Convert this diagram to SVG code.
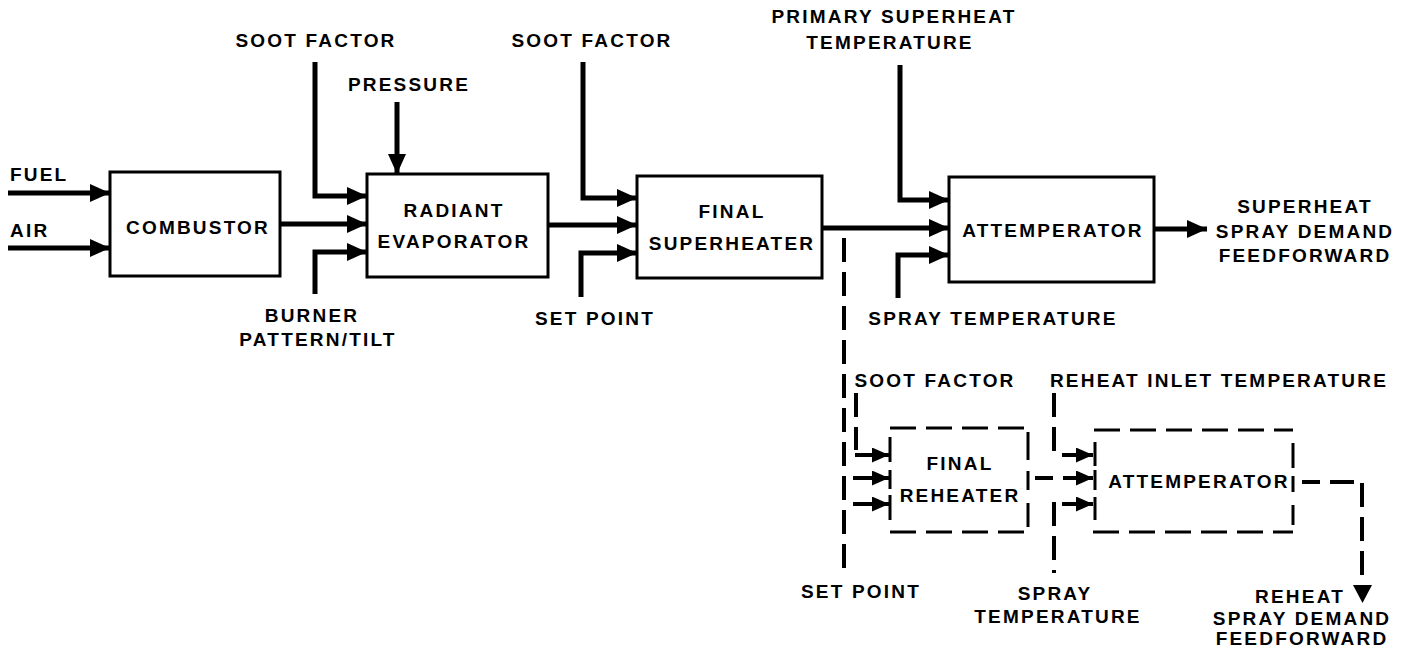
<svg xmlns="http://www.w3.org/2000/svg" width="1414" height="659" viewBox="0 0 1414 659">
<style>
text{font-family:"Liberation Sans",Arial,sans-serif;font-weight:bold;font-size:19px;letter-spacing:2.2px;fill:#000}
.m{text-anchor:middle}
.box{fill:#fff;stroke:#000;stroke-width:3}
.dbox{fill:none;stroke:#000;stroke-width:3;stroke-dasharray:26 10}
.w{fill:none;stroke:#000;stroke-width:5;stroke-linejoin:miter}
.d{fill:none;stroke:#000;stroke-width:4;stroke-dasharray:24 10}
.t{fill:none;stroke:#000;stroke-width:3}
.s{fill:none;stroke:#000;stroke-width:4}
</style>
<defs>
<marker id="ah" markerUnits="userSpaceOnUse" markerWidth="20" markerHeight="18" refX="20" refY="9" orient="auto">
<path d="M0,0 L20,9 L0,18 z" fill="#000"/>
</marker>
<marker id="as" markerUnits="userSpaceOnUse" markerWidth="17" markerHeight="15" refX="17" refY="7.5" orient="auto">
<path d="M0,0 L17,7.5 L0,15 z" fill="#000"/>
</marker>
</defs>
<rect width="1414" height="659" fill="#fff"/>

<g id="connectors">
<line class="w" x1="8" y1="193" x2="110" y2="193" marker-end="url(#ah)"/>
<line class="w" x1="8" y1="248" x2="110" y2="248" marker-end="url(#ah)"/>
<polyline class="w" points="315,62 315,196 367,196" marker-end="url(#ah)"/>
<line class="w" x1="280" y1="224" x2="367" y2="224" marker-end="url(#ah)"/>
<polyline class="w" points="315,294 315,252 367,252" marker-end="url(#ah)"/>
<line class="w" x1="397" y1="102" x2="397" y2="174" marker-end="url(#ah)"/>
<polyline class="w" points="583,62 583,198 637,198" marker-end="url(#ah)"/>
<line class="w" x1="548" y1="225" x2="637" y2="225" marker-end="url(#ah)"/>
<polyline class="w" points="581,297 581,253 637,253" marker-end="url(#ah)"/>
<polyline class="w" points="900,65 900,200 949,200" marker-end="url(#ah)"/>
<line class="w" x1="822" y1="228" x2="949" y2="228" marker-end="url(#ah)"/>
<polyline class="w" points="898,298 898,255 949,255" marker-end="url(#ah)"/>
<line class="w" x1="1154" y1="229" x2="1207" y2="229" marker-end="url(#ah)"/>

<line class="d" x1="844" y1="238" x2="844" y2="572"/>
<line class="d" x1="856" y1="393" x2="856" y2="450"/>
<line class="s" x1="855" y1="455" x2="889" y2="455" marker-end="url(#as)"/>
<line class="s" x1="853" y1="478" x2="889" y2="478" marker-end="url(#as)"/>
<line class="s" x1="853" y1="504" x2="889" y2="504" marker-end="url(#as)"/>

<line class="s" x1="1035" y1="478" x2="1053" y2="478"/>
<line class="d" x1="1054" y1="393" x2="1054" y2="452"/>
<line class="s" x1="1062" y1="455" x2="1093" y2="455" marker-end="url(#as)"/>
<line class="s" x1="1063" y1="478" x2="1093" y2="478" marker-end="url(#as)"/>
<line class="s" x1="1062" y1="504" x2="1093" y2="504" marker-end="url(#as)"/>
<line class="d" x1="1054" y1="502" x2="1054" y2="573"/>

<line class="s" x1="1302" y1="482" x2="1320" y2="482"/>
<line class="s" x1="1330" y1="482" x2="1354" y2="482"/>
<line class="d" x1="1362" y1="483" x2="1362" y2="582"/>
<path d="M1353,585 L1372,585 L1362.5,603 z" fill="#000"/>
</g>

<g id="combustor">
<rect class="box" x="110" y="172" width="170" height="104"/>
<text class="m" x="198" y="234">COMBUSTOR</text>
</g>
<g id="radiant-evaporator">
<rect class="box" x="367" y="174" width="181" height="103"/>
<text class="m" x="454" y="217">RADIANT</text>
<text class="m" x="454" y="248">EVAPORATOR</text>
</g>
<g id="final-superheater">
<rect class="box" x="637" y="176" width="185" height="102"/>
<text class="m" x="732" y="218">FINAL</text>
<text class="m" x="732" y="250">SUPERHEATER</text>
</g>
<g id="attemperator">
<rect class="box" x="949" y="177" width="205" height="105"/>
<text class="m" x="1053" y="237">ATTEMPERATOR</text>
</g>
<g id="final-reheater">
<line class="dbox" x1="890" y1="428" x2="1028" y2="428"/>
<line class="dbox" x1="890" y1="532" x2="1028" y2="532"/>
<line class="t" x1="890" y1="437" x2="890" y2="462"/>
<line class="t" x1="890" y1="470" x2="890" y2="489"/>
<line class="t" x1="890" y1="495" x2="890" y2="520"/>
<line class="t" x1="1028" y1="432" x2="1028" y2="460"/>
<line class="t" x1="1028" y1="471" x2="1028" y2="490"/>
<line class="t" x1="1028" y1="503" x2="1028" y2="527"/>
<text class="m" x="960" y="470">FINAL</text>
<text class="m" x="960" y="502">REHEATER</text>
</g>
<g id="reheat-attemperator">
<line class="dbox" x1="1094" y1="430" x2="1293" y2="430"/>
<line class="dbox" x1="1093" y1="532" x2="1293" y2="532"/>
<line class="t" x1="1095" y1="442" x2="1095" y2="466"/>
<line class="t" x1="1095" y1="470" x2="1095" y2="490"/>
<line class="t" x1="1095" y1="497" x2="1095" y2="520"/>
<line class="t" x1="1293" y1="443" x2="1293" y2="468"/>
<line class="t" x1="1293" y1="476" x2="1293" y2="492"/>
<line class="t" x1="1293" y1="505" x2="1293" y2="525"/>
<text class="m" x="1199" y="488">ATTEMPERATOR</text>
</g>

<g id="labels">
<text x="10" y="181">FUEL</text>
<text x="10" y="237">AIR</text>
<text class="m" x="316" y="47">SOOT FACTOR</text>
<text class="m" x="409" y="91">PRESSURE</text>
<text class="m" x="312" y="322">BURNER</text>
<text class="m" x="318" y="346">PATTERN/TILT</text>
<text class="m" x="592" y="47">SOOT FACTOR</text>
<text class="m" x="595" y="325">SET POINT</text>
<text class="m" x="894" y="23">PRIMARY SUPERHEAT</text>
<text class="m" x="890" y="49">TEMPERATURE</text>
<text class="m" x="993" y="325">SPRAY TEMPERATURE</text>
<text class="m" x="1305" y="213">SUPERHEAT</text>
<text class="m" x="1305" y="238">SPRAY DEMAND</text>
<text class="m" x="1305" y="262">FEEDFORWARD</text>
<text class="m" x="935" y="387">SOOT FACTOR</text>
<text class="m" x="1219" y="387">REHEAT INLET TEMPERATURE</text>
<text class="m" x="861" y="598">SET POINT</text>
<text class="m" x="1055" y="600">SPRAY</text>
<text class="m" x="1058" y="623">TEMPERATURE</text>
<text class="m" x="1300" y="603">REHEAT</text>
<text class="m" x="1302" y="625">SPRAY DEMAND</text>
<text class="m" x="1302" y="645">FEEDFORWARD</text>
</g>
</svg>
